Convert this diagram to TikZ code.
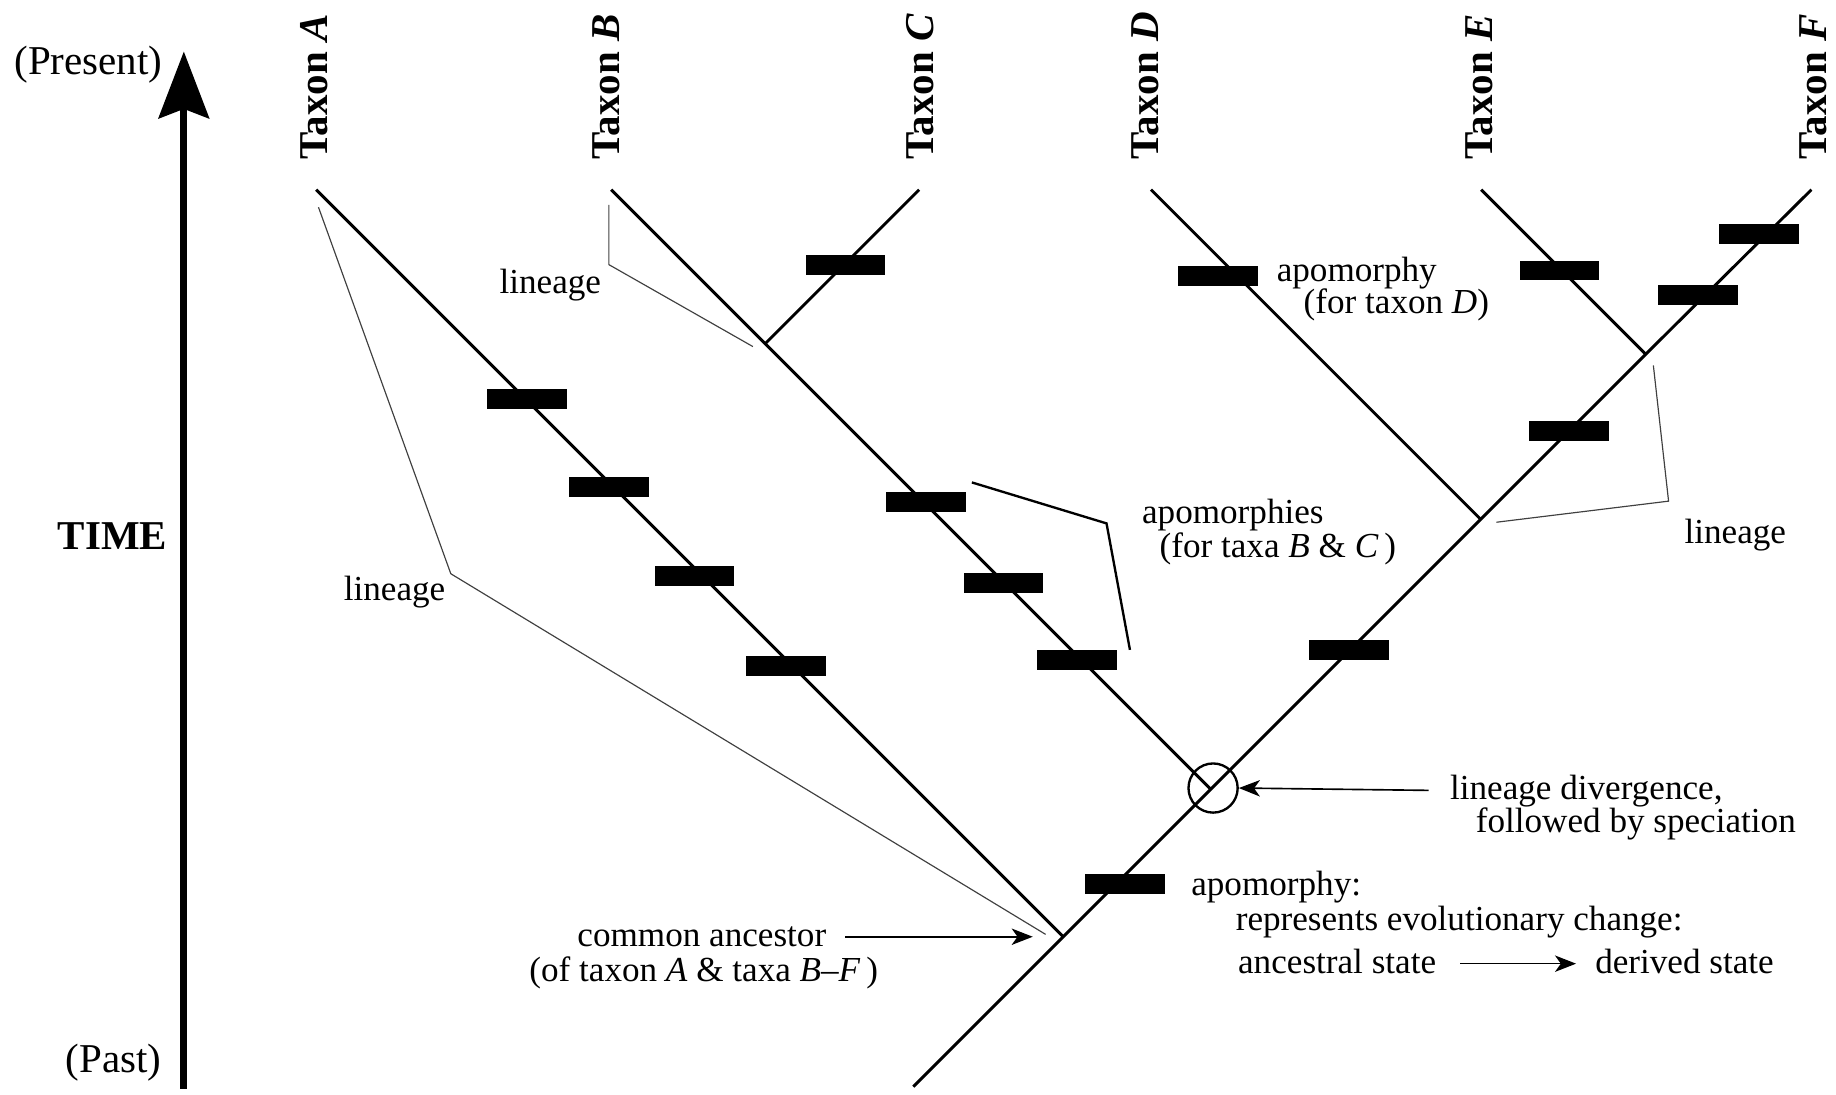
\documentclass[tikz,border=0pt]{standalone}
\usepackage{fontspec}
\setmainfont{Liberation Serif}
\usetikzlibrary{arrows.meta}
\begin{document}
\begin{tikzpicture}[x=0.5pt,y=-0.5pt,
  branch/.style={line width=1.25pt, black},
  bar/.style={fill=black, draw=none, minimum width=34pt, minimum height=8.5pt, inner sep=0pt},
  pointer/.style={line width=0.5pt, black!75},
  bracket/.style={line width=1pt, black},
  note/.style={font=\fontsize{15}{18}\selectfont, inner sep=0pt},
  axislabel/.style={font=\fontsize{17.5}{20}\selectfont, inner sep=0pt},
  taxon/.style={font=\fontsize{17.5}{20}\selectfont\bfseries, rotate=90, anchor=west, inner sep=0pt},
  smallarrow/.style={line width=0.7pt, -{Stealth[length=9pt, width=7pt, inset=2.5pt]}},
]
\useasboundingbox (0,0) rectangle (1568,935);

% time axis
\coordinate (past) at (157,930);
\coordinate (present) at (157,44);
\draw[line width=3pt, -{Stealth[length=28.5pt, width=21.5pt, inset=4pt]}] (past) -- (present);
\node[axislabel, anchor=base] (lpresent) at (75.5,64) {(Present)};
\node[axislabel, anchor=base, font=\fontsize{17.5}{20}\selectfont\bfseries] (ltime) at (96,469) {TIME};
\node[axislabel, anchor=base] (lpast) at (97,916) {(Past)};

% branch points and tips
\coordinate (root) at (780,928);
\coordinate (ca)   at (908,800);
\coordinate (div)  at (1034,674);
\coordinate (bc)   at (653.5,293.5);
\coordinate (dn)   at (1264.5,443.5);
\coordinate (ef)   at (1405.5,302.5);
\coordinate (tA) at (270,162);
\coordinate (tB) at (522,162);
\coordinate (tC) at (785,162);
\coordinate (tD) at (983,162);
\coordinate (tE) at (1265,162);
\coordinate (tF) at (1547,162);

% tree
\draw[branch] (root) -- (ca) -- (div) -- (dn) -- (ef) -- (tF);
\draw[branch] (ca) -- (tA);
\draw[branch] (div) -- (bc) -- (tB);
\draw[branch] (bc) -- (tC);
\draw[branch] (dn) -- (tD);
\draw[branch] (ef) -- (tE);

% taxon names
\node[taxon] (nA) at (268,137) {Taxon \textit{A}};
\node[taxon] (nB) at (518,137) {Taxon \textit{B}};
\node[taxon] (nC) at (786,137) {Taxon \textit{C}};
\node[taxon] (nD) at (978,137) {Taxon \textit{D}};
\node[taxon] (nE) at (1263,137) {Taxon \textit{E}};
\node[taxon] (nF) at (1549,137) {Taxon \textit{F}};

% apomorphies (character changes)
\node[bar] (a1) at (450,341) {};
\node[bar] (a2) at (520,416) {};
\node[bar] (a3) at (593,492) {};
\node[bar] (a4) at (671,569) {};
\node[bar] (b1) at (791,429) {};
\node[bar] (b2) at (857,498) {};
\node[bar] (b3) at (920,564) {};
\node[bar] (c1) at (722,226) {};
\node[bar] (d1) at (1040,236) {};
\node[bar] (e1) at (1332,231) {};
\node[bar] (f1) at (1502,200) {};
\node[bar] (f2) at (1450,252) {};
\node[bar] (m1) at (1340,368) {};
\node[bar] (m2) at (1152,555) {};
\node[bar] (m3) at (961,755) {};

% divergence marker
\node[circle, draw, line width=1pt, minimum size=21pt, inner sep=0pt] (divc) at (1036,673) {};

% lineage brackets
\coordinate (pA1) at (272,177);
\coordinate (pA2) at (385,490);
\coordinate (pA3) at (893,798);
\draw[pointer] (pA1) -- (pA2) -- (pA3);
\node[note, anchor=base] (lnA) at (337,513) {lineage};

\coordinate (pB1) at (520,175);
\coordinate (pB2) at (520,226);
\coordinate (pB3) at (643,296);
\draw[pointer] (pB1) -- (pB2) -- (pB3);
\node[note, anchor=base] (lnB) at (470,251) {lineage};

\coordinate (pR1) at (1278,446);
\coordinate (pR2) at (1425,428);
\coordinate (pR3) at (1412,312);
\draw[pointer] (pR1) -- (pR2) -- (pR3);
\node[note, anchor=base] (lnR) at (1482,464) {lineage};

% apomorphies of taxa B and C
\coordinate (q1) at (830,412);
\coordinate (q2) at (945,447);
\coordinate (q3) at (965,555);
\draw[bracket] (q1) -- (q2) -- (q3);
\node[note, anchor=base west] (tBC1) at (975,447) {apomorphies};
\node[note, anchor=base west] (tBC2) at (990,476) {(for taxa \textit{B} \& \textit{C}\,)};

% apomorphy of taxon D
\node[note, anchor=base west] (tD1) at (1090,240) {apomorphy};
\node[note, anchor=base west] (tD2) at (1113,268) {(for taxon \textit{D})};

% divergence
\node[note, anchor=base west] (tdiv1) at (1238,683) {lineage divergence,};
\node[note, anchor=base west] (tdiv2) at (1260,711) {followed by speciation};
\coordinate (dvs) at (1220,675);
\draw[smallarrow] (dvs) -- (divc.east);

% apomorphy explanation
\node[note, anchor=base west] (tap1) at (1017,765) {apomorphy:};
\node[note, anchor=base west] (tap2) at (1055,795) {represents evolutionary change:};
\node[note, anchor=base west] (tanc) at (1057,831) {ancestral state};
\node[note, anchor=base west] (tder) at (1362,831) {derived state};
\draw[smallarrow] ([xshift=10pt]tanc.east |- 0,823) -- ([xshift=-8pt]tder.west |- 0,823);

% common ancestor
\node[note, anchor=base east] (tca1) at (706,808) {common ancestor};
\node[note, anchor=base] (tca2) at (601,838) {(of taxon \textit{A} \& taxa \textit{B}--\textit{F}\,)};
\coordinate (cae) at (882,800);
\draw[smallarrow] ([xshift=8pt]tca1.east |- 0,800) -- (cae);
\end{tikzpicture}
\end{document}
